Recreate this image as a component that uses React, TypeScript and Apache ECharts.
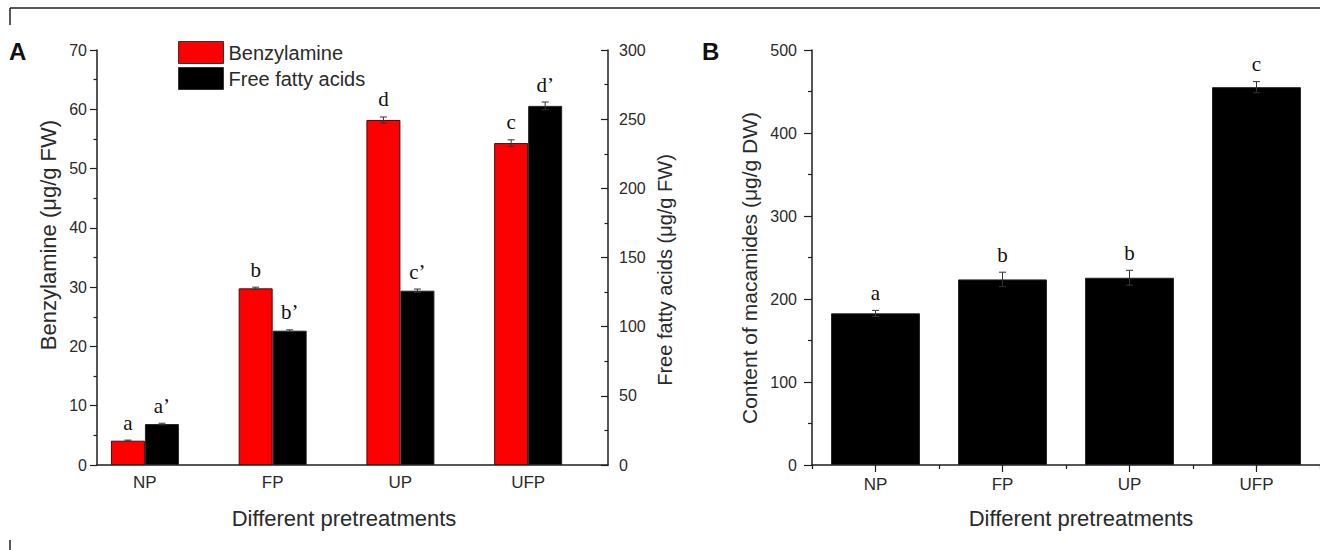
import React, { useEffect, useRef } from 'react';
import * as echarts from 'echarts';

// ---------- data ----------
const categories = ['NP', 'FP', 'UP', 'UFP'];
const categoryPositions = [1, 2, 3, 4];

const benzylamine = [4.1, 29.8, 58.2, 54.3];
const benzylamineErr = [0.1, 0.2, 0.5, 0.55];
const benzylamineLetters = ['a', 'b', 'd', 'c'];

const fattyAcids = [29.6, 97.1, 126.0, 259.6];
const fattyAcidsErr = [0.6, 0.6, 1.2, 2.8];
const fattyAcidsLetters = ['a’', 'b’', 'c’', 'd’'];

const macamides = [182.7, 223.6, 225.6, 455.2];
const macamidesErr = [3.6, 8.7, 9.0, 6.7];
const macamidesLetters = ['a', 'b', 'b', 'c'];

const leftTicksA = { min: 0, max: 70, interval: 10 };
const rightTicksA = { min: 0, max: 300, interval: 50 };
const ticksB = { min: 0, max: 500, interval: 100 };

// ---------- styles ----------
const SANS = '"Liberation Sans", Arial, Helvetica, sans-serif';
const SERIF = '"Liberation Serif", "Times New Roman", serif';
const AXIS_COLOR = '#1e1e1e';
const TEXT_COLOR = '#2a2a2a';

function errorRenderer(letters: string[], offset: number) {
  return (params: any, api: any) => {
    const x = api.value(0);
    const v = api.value(1);
    const e = api.value(2);
    const idx = api.value(3);
    const top = api.coord([x, v + e]);
    const bot = api.coord([x, v - e]);
    const cx = top[0] + offset;
    const cap = 3.5;
    const ls = { stroke: '#333', lineWidth: 1 };
    return {
      type: 'group',
      children: [
        { type: 'line', shape: { x1: cx, y1: top[1], x2: cx, y2: bot[1] }, style: ls },
        { type: 'line', shape: { x1: cx - cap, y1: top[1], x2: cx + cap, y2: top[1] }, style: ls },
        { type: 'line', shape: { x1: cx - cap, y1: bot[1], x2: cx + cap, y2: bot[1] }, style: ls },
        {
          type: 'text',
          x: cx,
          y: top[1] - 7,
          style: {
            text: letters[idx],
            fill: '#111',
            fontSize: 21,
            fontFamily: SERIF,
            align: 'center',
            verticalAlign: 'bottom',
          },
        },
      ],
    };
  };
}

function yAxisBase(extra: any) {
  return {
    type: 'value',
    axisLine: { show: true, onZero: false, lineStyle: { color: AXIS_COLOR, width: 1.5 } },
    axisTick: { show: true, length: 7, lineStyle: { color: AXIS_COLOR, width: 1.2 } },
    minorTick: { show: true, splitNumber: 2, length: 3.5, lineStyle: { color: AXIS_COLOR, width: 1.2 } },
    splitLine: { show: false },
    axisLabel: { fontSize: 16, color: TEXT_COLOR, fontFamily: SANS },
    ...extra,
  };
}

export default function App() {
  const ref = useRef<HTMLDivElement>(null);

  useEffect(() => {
    if (!ref.current) return;
    const chart = echarts.init(ref.current, null, { renderer: 'svg' });

    const option: any = {
      animation: false,
      backgroundColor: '#ffffff',
      grid: [
        { left: 97, width: 511, top: 50, bottom: 85, containLabel: false },
        { left: 812, width: 511, top: 50, bottom: 85, containLabel: false },
      ],
      legend: {
        data: ['Benzylamine', 'Free fatty acids'],
        orient: 'vertical',
        left: 178,
        top: 41,
        padding: 0,
        itemWidth: 45,
        itemHeight: 22,
        itemGap: 3,
        icon: 'rect',
        itemStyle: { borderColor: '#333', borderWidth: 1 },
        textStyle: { fontSize: 20, color: TEXT_COLOR, fontFamily: SANS, lineHeight: 22 },
      },
      xAxis: [
        {
          type: 'value',
          gridIndex: 0,
          position: 'bottom',
          min: 0.625,
          max: 4.625,
          interval: 0.125,
          axisLine: { show: true, onZero: false, lineStyle: { color: AXIS_COLOR, width: 1.5 } },
          axisTick: { show: false },
          splitLine: { show: false },
          axisLabel: {
            fontSize: 17,
            color: TEXT_COLOR,
            fontFamily: SANS,
            margin: 9,
            showMinLabel: true,
            showMaxLabel: true,
            formatter: (v: number) => {
              const i = categoryPositions.indexOf(Math.round(v * 1000) / 1000);
              return i >= 0 ? categories[i] : '';
            },
          },
        },
        {
          type: 'category',
          gridIndex: 1,
          position: 'bottom',
          data: categories,
          boundaryGap: true,
          axisLine: { show: true, onZero: false, lineStyle: { color: AXIS_COLOR, width: 1.5 } },
          axisTick: { show: true, alignWithLabel: true, length: 7, lineStyle: { color: AXIS_COLOR, width: 1.2 } },
          axisLabel: { fontSize: 17, color: TEXT_COLOR, fontFamily: SANS, margin: 11 },
        },
        {
          type: 'category',
          gridIndex: 1,
          position: 'bottom',
          data: categories,
          boundaryGap: true,
          axisLine: { show: false, onZero: false },
          axisTick: { show: true, alignWithLabel: false, length: 4, lineStyle: { color: AXIS_COLOR, width: 1.2 } },
          axisLabel: { show: false },
        },
      ],
      yAxis: [
        yAxisBase({
          gridIndex: 0,
          position: 'left',
          min: leftTicksA.min,
          max: leftTicksA.max,
          interval: leftTicksA.interval,
          axisLabel: { fontSize: 16, color: TEXT_COLOR, fontFamily: SANS, margin: 10 },
        }),
        yAxisBase({
          gridIndex: 0,
          position: 'right',
          min: rightTicksA.min,
          max: rightTicksA.max,
          interval: rightTicksA.interval,
          axisTick: { show: true, inside: true, length: 7, lineStyle: { color: AXIS_COLOR, width: 1.2 } },
          axisLabel: { fontSize: 16, color: TEXT_COLOR, fontFamily: SANS, margin: 11 },
        }),
        yAxisBase({
          gridIndex: 1,
          position: 'left',
          min: ticksB.min,
          max: ticksB.max,
          interval: ticksB.interval,
          axisTick: { show: true, length: 8, lineStyle: { color: AXIS_COLOR, width: 1.2 } },
          minorTick: { show: true, splitNumber: 2, length: 4, lineStyle: { color: AXIS_COLOR, width: 1.2 } },
          axisLabel: { fontSize: 16, color: TEXT_COLOR, fontFamily: SANS, margin: 15 },
        }),
      ],
      series: [
        {
          name: 'Benzylamine',
          type: 'bar',
          xAxisIndex: 0,
          yAxisIndex: 0,
          barWidth: 34,
          barGap: '0%',
          itemStyle: { color: '#ff0000', borderColor: '#3a1010', borderWidth: 1 },
          data: categoryPositions.map((p, i) => [p, benzylamine[i]]),
        },
        {
          name: 'Free fatty acids',
          type: 'bar',
          xAxisIndex: 0,
          yAxisIndex: 1,
          barWidth: 34,
          barGap: '0%',
          itemStyle: { color: '#000000', borderColor: '#222', borderWidth: 1 },
          data: categoryPositions.map((p, i) => [p, fattyAcids[i]]),
        },
        {
          name: 'Benzylamine error',
          type: 'custom',
          xAxisIndex: 0,
          yAxisIndex: 0,
          clip: false,
          silent: true,
          renderItem: errorRenderer(benzylamineLetters, -17),
          data: categoryPositions.map((p, i) => [p, benzylamine[i], benzylamineErr[i], i]),
          z: 5,
        },
        {
          name: 'Free fatty acids error',
          type: 'custom',
          xAxisIndex: 0,
          yAxisIndex: 1,
          clip: false,
          silent: true,
          renderItem: errorRenderer(fattyAcidsLetters, 17),
          data: categoryPositions.map((p, i) => [p, fattyAcids[i], fattyAcidsErr[i], i]),
          z: 5,
        },
        {
          name: 'Macamides',
          type: 'bar',
          xAxisIndex: 1,
          yAxisIndex: 2,
          barWidth: '70%',
          itemStyle: { color: '#000000', borderColor: '#222', borderWidth: 1 },
          data: macamides,
        },
        {
          name: 'Macamides error',
          type: 'custom',
          xAxisIndex: 1,
          yAxisIndex: 2,
          clip: false,
          silent: true,
          renderItem: errorRenderer(macamidesLetters, 0),
          data: categories.map((c, i) => [i, macamides[i], macamidesErr[i], i]),
          z: 5,
        },
      ],
      graphic: [
        { type: 'line', shape: { x1: 10, y1: 8, x2: 1320, y2: 8 }, style: { stroke: '#222', lineWidth: 1.5 } },
        { type: 'line', shape: { x1: 10, y1: 8, x2: 10, y2: 25 }, style: { stroke: '#222', lineWidth: 1.5 } },
        { type: 'line', shape: { x1: 10, y1: 540, x2: 10, y2: 550 }, style: { stroke: '#222', lineWidth: 1.5 } },
        {
          type: 'text', x: 9, y: 39,
          style: { text: 'A', fontSize: 24, fontWeight: 'bold', fontFamily: SANS, fill: '#111' },
        },
        {
          type: 'text', x: 702, y: 39,
          style: { text: 'B', fontSize: 24, fontWeight: 'bold', fontFamily: SANS, fill: '#111' },
        },
        {
          type: 'text', x: 48, y: 235, rotation: Math.PI / 2,
          style: { text: 'Benzylamine (μg/g FW)', fontSize: 22, fontFamily: SANS, fill: TEXT_COLOR, align: 'center', verticalAlign: 'middle' },
        },
        {
          type: 'text', x: 665, y: 270, rotation: Math.PI / 2,
          style: { text: 'Free fatty acids (μg/g FW)', fontSize: 20, fontFamily: SANS, fill: TEXT_COLOR, align: 'center', verticalAlign: 'middle' },
        },
        {
          type: 'text', x: 749, y: 268, rotation: Math.PI / 2,
          style: { text: 'Content of macamides (μg/g DW)', fontSize: 21, fontFamily: SANS, fill: TEXT_COLOR, align: 'center', verticalAlign: 'middle' },
        },
        {
          type: 'text', x: 344, y: 518,
          style: { text: 'Different pretreatments', fontSize: 22, fontFamily: SANS, fill: TEXT_COLOR, align: 'center', verticalAlign: 'middle' },
        },
        {
          type: 'text', x: 1081, y: 518,
          style: { text: 'Different pretreatments', fontSize: 22, fontFamily: SANS, fill: TEXT_COLOR, align: 'center', verticalAlign: 'middle' },
        },
      ],
    };

    chart.setOption(option);
    return () => {
      chart.dispose();
    };
  }, []);

  return (
    <div
      ref={ref}
      style={{ position: 'fixed', left: 0, top: 0, width: 1320, height: 550, background: '#fff' }}
    />
  );
}
